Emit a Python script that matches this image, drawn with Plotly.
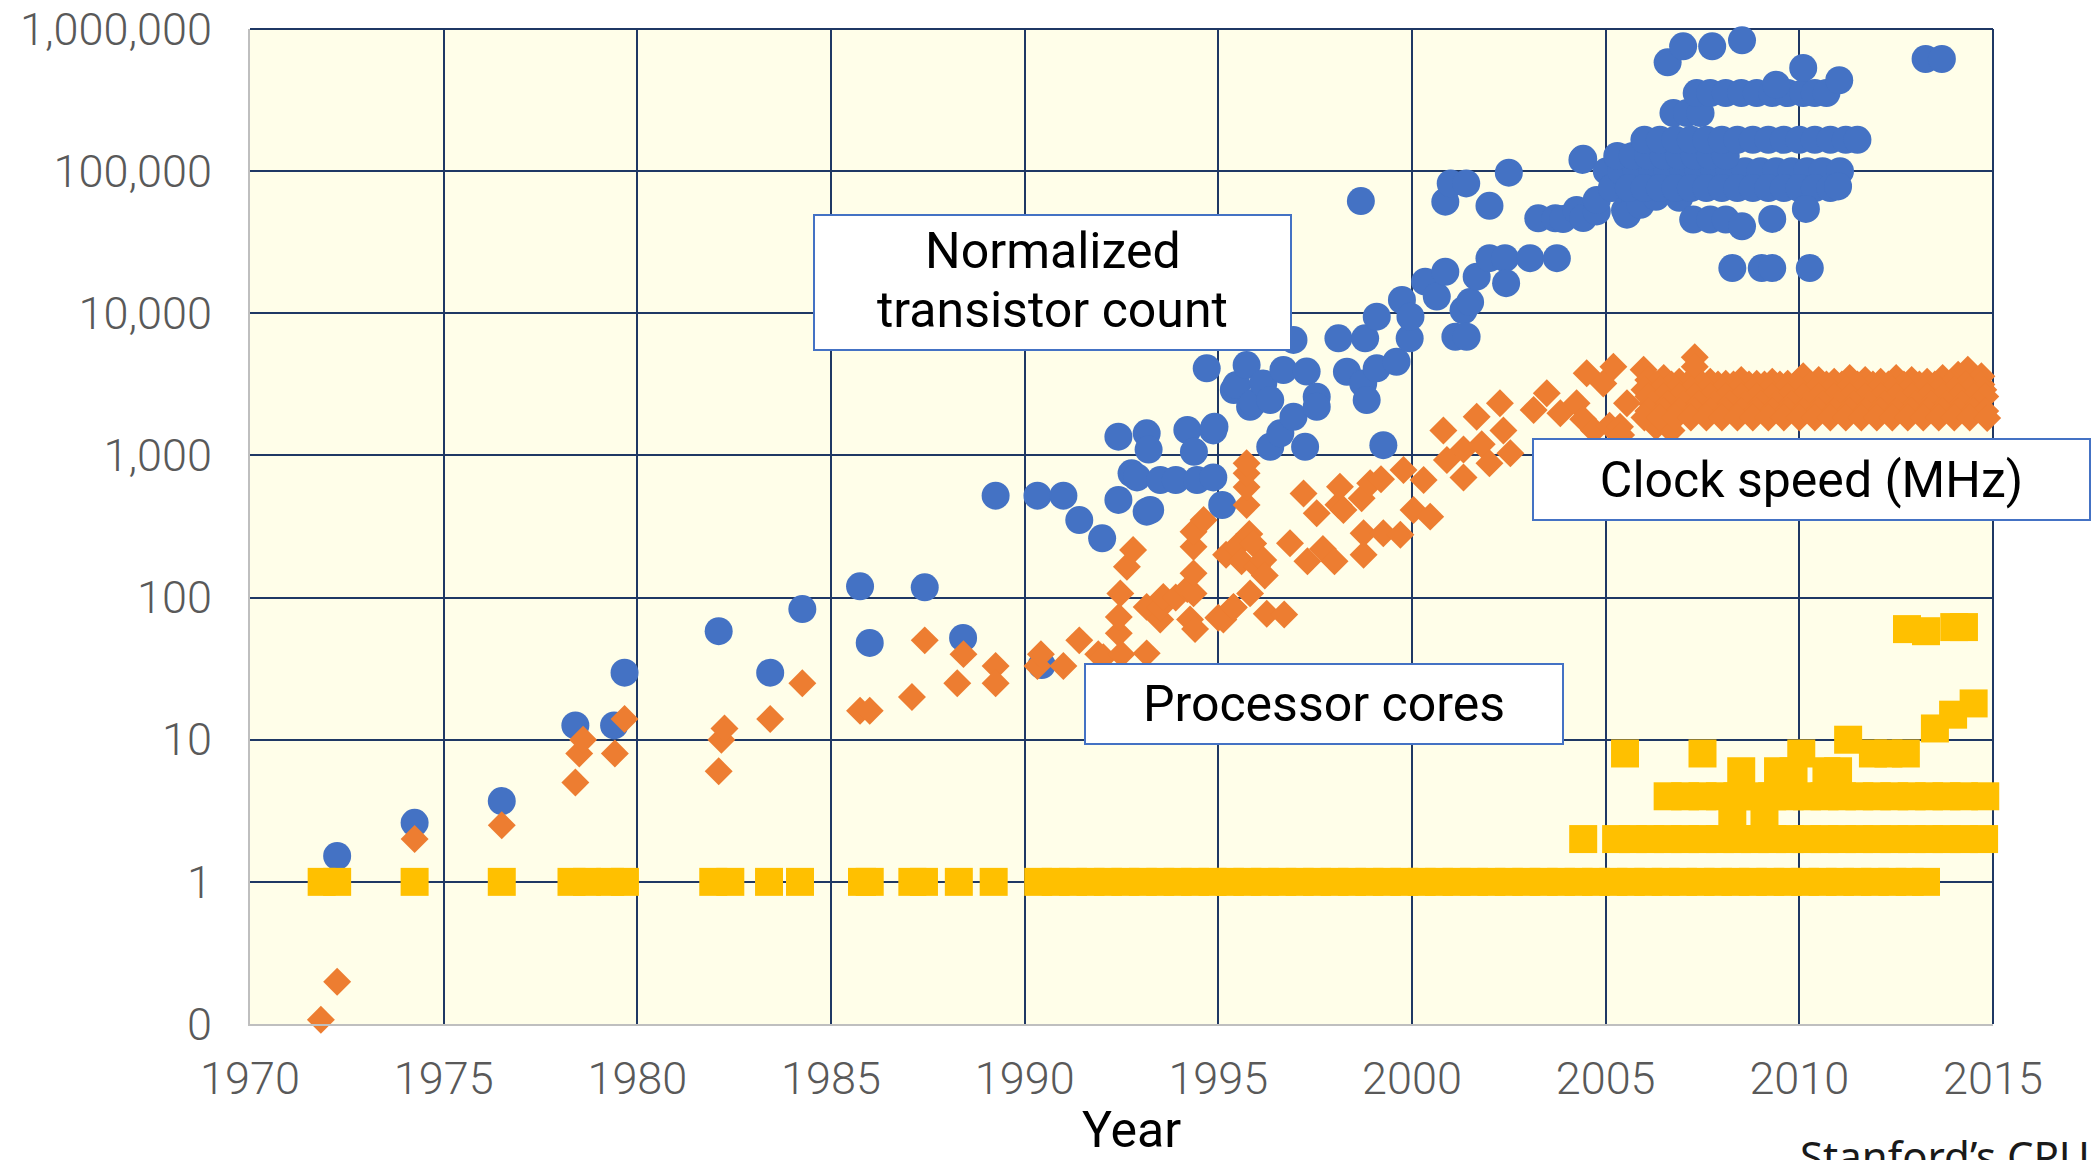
import plotly.graph_objects as go

# ---------------- data ----------------
transistor_year = [
    1972.25, 1974.25, 1976.5, 1978.4, 1979.4, 1979.67, 1982.1, 1983.43, 1984.26, 1985.75,
    1986.0, 1987.42, 1988.41, 1989.25, 1990.33, 1990.44, 1991.0, 1991.41, 1992.0, 1992.42,
    1992.42, 1992.76, 1992.9, 1993.15, 1993.15, 1993.2, 1993.24, 1993.5, 1993.9, 1994.2,
    1994.37, 1994.45, 1994.7, 1994.87, 1994.87, 1994.9, 1995.1, 1995.4, 1995.47, 1995.73,
    1995.82, 1995.9, 1996.16, 1996.34, 1996.34, 1996.6, 1996.68, 1996.94, 1996.94, 1997.24,
    1997.28, 1997.54, 1997.54, 1998.1, 1998.32, 1998.68, 1998.74, 1998.79, 1998.83, 1999.09,
    1999.09, 1999.26, 1999.6, 1999.74, 1999.94, 1999.96, 2000.34, 2000.64, 2000.86, 2000.86,
    2001.0, 2001.12, 2001.33, 2001.4, 2001.41, 2001.5, 2001.67, 2002.0, 2002.0, 2002.4,
    2002.43, 2002.5, 2003.05, 2003.26, 2003.7, 2003.74, 2003.9, 2004.25, 2004.4, 2004.42,
    2004.42, 2004.77, 2004.77, 2005.03, 2005.2, 2005.16, 2005.5, 2005.5, 2005.55, 2005.9,
    2006.3, 2006.9,
    # 100,000 row
    2005.4, 2005.8, 2006.2, 2006.6, 2007.0, 2007.4, 2007.8, 2008.2, 2008.6, 2009.0,
    2009.4, 2009.8, 2010.2, 2010.6, 2011.05,
    # ~76,000 row
    2005.6, 2006.0, 2006.4, 2006.8, 2007.2, 2007.6, 2008.0, 2008.4, 2008.8, 2009.2,
    2009.6, 2010.0, 2010.4, 2010.8, 2011.0,
    # ~128,000 row
    2005.3, 2005.7, 2006.1, 2006.5, 2006.9, 2007.3, 2007.7, 2008.1,
    # ~166,000 row
    2006.0, 2006.4, 2006.8, 2007.2, 2007.6, 2008.0, 2008.4, 2008.8, 2009.2, 2009.6,
    2010.0, 2010.4, 2010.8, 2011.2, 2011.5,
    # ~256,000 row
    2006.75, 2007.1, 2007.45,
    # ~354,000 row
    2007.35, 2007.7, 2008.1, 2008.5, 2008.9, 2009.3, 2009.7, 2010.1, 2010.4, 2010.7,
    # top points
    2006.6, 2007.0, 2007.75, 2008.52, 2009.4, 2010.1, 2011.03, 2013.26, 2013.68,
    # ~45,000 row and low points
    2007.26, 2007.7, 2008.1, 2008.52, 2009.3, 2010.17,
    2008.27, 2009.03, 2009.3, 2010.27,
]
transistor_count = [
    1.52, 2.6, 3.7, 12.6, 12.6, 29.6, 58, 29.6, 83, 120,
    48, 118, 52, 521, 521, 33.5, 521, 351, 261, 1355,
    486, 748, 700, 1430, 402, 1100, 413, 671, 671, 1510,
    1060, 671, 4100, 1500, 700, 1590, 448, 2885, 3130, 4320,
    2200, 2340, 3210, 1150, 2450, 1430, 3990, 1870, 6490, 1150,
    3890, 2590, 2200, 6670, 3880, 61600, 3210, 6670, 2450, 9460,
    4100, 1180, 4560, 12400, 6670, 9460, 16700, 13100, 19600, 61000,
    82000, 6840, 10500, 82000, 6840, 12000, 18100, 24400, 57000, 24400,
    16300, 97500, 24400, 46600, 46600, 24400, 46000, 53300, 120000, 46800,
    122000, 52100, 62700, 100000, 78000, 76000, 124000, 53000, 49400, 58000,
    66000, 65000,
    100000, 100000, 100000, 100000, 100000, 100000, 100000, 100000, 100000, 100000,
    100000, 100000, 100000, 100000, 100000,
    76000, 76000, 76000, 76000, 76000, 76000, 76000, 76000, 76000, 76000,
    76000, 76000, 76000, 76000, 78100,
    128000, 128000, 128000, 128000, 128000, 128000, 128000, 128000,
    166000, 166000, 166000, 166000, 166000, 166000, 166000, 166000, 166000, 166000,
    166000, 166000, 166000, 166000, 166000,
    256000, 256000, 256000,
    354000, 354000, 354000, 354000, 354000, 354000, 354000, 354000, 354000, 354000,
    583000, 755000, 755000, 832000, 406000, 532000, 436000, 615000, 615000,
    45600, 45600, 45600, 40900, 46100, 54200,
    20800, 20800, 20800, 20800,
]

clock_year = [
    1971.83, 1972.25, 1974.25, 1976.5, 1978.4, 1978.5, 1978.6, 1979.42, 1979.67, 1982.1,
    1982.17, 1982.25, 1983.43, 1984.26, 1985.75, 1986.0, 1987.09, 1987.42, 1988.26, 1988.42,
    1989.25, 1989.25, 1990.33, 1990.42, 1991.0, 1991.41, 1991.9, 1992.03, 1992.43, 1992.43,
    1992.47, 1992.5, 1992.64, 1992.8, 1993.15, 1993.15, 1993.5, 1993.5, 1993.58, 1993.9,
    1994.2, 1994.27, 1994.36, 1994.36, 1994.36, 1994.36, 1994.4, 1994.62, 1995.0, 1995.13,
    1995.2, 1995.39, 1995.4, 1995.47, 1995.6, 1995.73, 1995.73, 1995.73, 1995.73, 1995.8,
    1995.82, 1995.9, 1996.0, 1996.16, 1996.2, 1996.25, 1996.7, 1996.85, 1997.2, 1997.3,
    1997.54, 1997.7, 1998.0, 1998.1, 1998.14, 1998.23, 1998.7, 1998.75, 1998.75, 1998.92,
    1999.2, 1999.26, 1999.7, 1999.78, 2000.04, 2000.3, 2000.47, 2000.81, 2000.9, 2001.33,
    2001.33, 2001.67, 2001.8, 2002.0, 2002.27, 2002.36, 2002.54, 2003.14, 2003.48, 2003.83,
    2004.25, 2004.42, 2004.51, 2004.7, 2004.94, 2005.1, 2005.2, 2005.37, 2005.4, 2005.55,
    2005.98, 2006.3, 2006.7,
    # top edge of the 2006-2015 band
    2006.1, 2006.5, 2006.9, 2007.3, 2007.3, 2007.7, 2008.1, 2008.5, 2008.9, 2009.3,
    2009.7, 2010.1, 2010.5, 2010.9, 2011.3, 2011.7, 2012.1, 2012.5, 2012.9, 2013.3,
    2013.7, 2014.1, 2014.35, 2014.7,
    # ~3,150 MHz
    2006.3, 2006.7, 2007.1, 2007.5, 2007.9, 2008.3, 2008.7, 2009.1, 2009.5, 2009.9,
    2010.3, 2010.7, 2011.1, 2011.5, 2011.9, 2012.3, 2012.7, 2013.1, 2013.5, 2013.9,
    2014.3, 2014.7,
    # ~2,900 MHz
    2006.0, 2006.4, 2006.8, 2007.2, 2007.6, 2008.0, 2008.4, 2008.8, 2009.2, 2009.6,
    2010.0, 2010.4, 2010.8, 2011.2, 2011.6, 2012.0, 2012.4, 2012.8, 2013.2, 2013.6,
    2014.0, 2014.4, 2014.75,
    # ~2,600 MHz
    2006.1, 2006.5, 2006.9, 2007.3, 2007.7, 2008.1, 2008.5, 2008.9, 2009.3, 2009.7,
    2010.1, 2010.5, 2010.9, 2011.3, 2011.7, 2012.1, 2012.5, 2012.9, 2013.3, 2013.7,
    2014.1, 2014.5, 2014.8,
    # ~2,300 MHz
    2006.2, 2006.6, 2007.0, 2007.4, 2007.8, 2008.2, 2008.6, 2009.0, 2009.4, 2009.8,
    2010.2, 2010.6, 2011.0, 2011.4, 2011.8, 2012.2, 2012.6, 2013.0, 2013.4, 2013.8,
    2014.2, 2014.6,
    # ~2,050 MHz
    2006.1, 2006.5, 2006.9, 2007.3, 2007.7, 2008.1, 2008.5, 2008.9, 2009.3, 2009.7,
    2010.1, 2010.5, 2010.9, 2011.3, 2011.7, 2012.1, 2012.5, 2012.9, 2013.3, 2013.7,
    2014.1, 2014.5, 2014.8,
    # ~1,850 MHz
    2006.0, 2006.4, 2006.8, 2007.2, 2007.6, 2008.0, 2008.4, 2008.8, 2009.2, 2009.6,
    2010.0, 2010.4, 2010.8, 2011.2, 2011.6, 2012.0, 2012.4, 2012.8, 2013.2, 2013.6,
    2014.0, 2014.4, 2014.85,
]
clock_mhz = [
    0.107, 0.198, 2.0, 2.5, 5.0, 8.0, 10, 8, 14, 6,
    10, 12, 14, 25, 16, 16, 20, 50, 25, 40,
    33, 25, 33, 40, 33, 50, 40, 38, 56, 73,
    107, 40, 165, 216, 40.5, 86, 70, 85, 101, 100,
    115, 70, 107, 148, 228, 290, 60, 351, 72, 70,
    200, 86, 85, 228, 180, 448, 600, 748, 880, 280,
    107, 240, 165, 184, 143, 77, 76, 241, 540, 180,
    392, 220, 180, 450, 602, 413, 500, 283, 200, 637,
    680, 283, 277, 789, 413, 671, 371, 1500, 929, 1100,
    700, 1870, 1200, 880, 2330, 1500, 1035, 2090, 2735, 1980,
    2330, 1800, 3780, 1500, 3210, 1620, 4200, 1590, 1390, 2330,
    4000, 1600, 1500,
    3400, 3500, 3300, 4900, 4200, 3300, 3200, 3400, 3200, 3300,
    3200, 3600, 3400, 3300, 3500, 3400, 3300, 3500, 3400, 3300,
    3500, 3700, 4000, 3600,
    3150, 3150, 3150, 3150, 3150, 3150, 3150, 3150, 3150, 3150,
    3150, 3150, 3150, 3150, 3150, 3150, 3150, 3150, 3150, 3150,
    3150, 3150,
    2900, 2900, 2900, 2900, 2900, 2900, 2900, 2900, 2900, 2900,
    2900, 2900, 2900, 2900, 2900, 2900, 2900, 2900, 2900, 2900,
    2900, 2900, 2900,
    2600, 2600, 2600, 2600, 2600, 2600, 2600, 2600, 2600, 2600,
    2600, 2600, 2600, 2600, 2600, 2600, 2600, 2600, 2600, 2600,
    2600, 2600, 2600,
    2300, 2300, 2300, 2300, 2300, 2300, 2300, 2300, 2300, 2300,
    2300, 2300, 2300, 2300, 2300, 2300, 2300, 2300, 2300, 2300,
    2300, 2300,
    2050, 2050, 2050, 2050, 2050, 2050, 2050, 2050, 2050, 2050,
    2050, 2050, 2050, 2050, 2050, 2050, 2050, 2050, 2050, 2050,
    2050, 2050, 2050,
    1850, 1850, 1850, 1850, 1850, 1850, 1850, 1850, 1850, 1850,
    1850, 1850, 1850, 1850, 1850, 1850, 1850, 1850, 1850, 1850,
    1850, 1850, 1830,
]

cores_year = [
    1971.85, 1972.25, 1974.25, 1976.5, 1978.3, 1978.7, 1979.3, 1979.68, 1981.96, 1982.4,
    1983.4, 1984.2, 1985.8, 1986.0, 1987.1, 1987.4, 1988.3, 1989.2,
    1990.35, 1990.8, 1991.25, 1991.7, 1992.15, 1992.6, 1993.05, 1993.5, 1993.95, 1994.4,
    1994.85, 1995.3, 1995.75, 1996.2, 1996.65, 1997.1, 1997.55, 1998.0, 1998.45, 1998.9,
    1999.35, 1999.8, 2000.25, 2000.7, 2001.15, 2001.6, 2002.05, 2002.5, 2002.95, 2003.4,
    2003.85, 2004.3, 2004.75, 2005.2, 2005.65, 2006.1, 2006.55, 2007.0, 2007.45, 2007.9,
    2008.35, 2008.8, 2009.25, 2009.7, 2010.15, 2010.6, 2011.05, 2011.5, 2011.95, 2012.4,
    2012.85, 2013.27,
    # 2 cores
    2004.42, 2005.27, 2005.7, 2006.15, 2006.6, 2007.05, 2007.5, 2007.95, 2008.4, 2008.85,
    2009.3, 2009.75, 2010.2, 2010.65, 2011.1, 2011.55, 2012.0, 2012.45, 2012.9, 2013.35,
    2013.8, 2014.25, 2014.77,
    # 3 cores
    2008.27, 2009.1,
    # 4 cores
    2006.6, 2007.05, 2007.5, 2007.95, 2008.4, 2008.85, 2009.3, 2009.75, 2010.2, 2010.65,
    2011.1, 2011.55, 2012.0, 2012.45, 2012.9, 2013.35, 2013.8, 2014.25, 2014.8,
    # 6 cores
    2008.5, 2009.45, 2009.85, 2010.7, 2011.0,
    # 8 cores
    2005.5, 2007.5, 2010.05, 2011.9, 2012.3, 2012.75,
    # 10+ cores
    2011.26, 2013.5, 2013.97, 2014.5,
    # ~60 cores
    2012.78, 2013.27, 2014.0, 2014.25,
]
cores_count = [
    1, 1, 1, 1, 1, 1, 1, 1, 1, 1,
    1, 1, 1, 1, 1, 1, 1, 1,
    1, 1, 1, 1, 1, 1, 1, 1, 1, 1,
    1, 1, 1, 1, 1, 1, 1, 1, 1, 1,
    1, 1, 1, 1, 1, 1, 1, 1, 1, 1,
    1, 1, 1, 1, 1, 1, 1, 1, 1, 1,
    1, 1, 1, 1, 1, 1, 1, 1, 1, 1,
    1, 1,
    2, 2, 2, 2, 2, 2, 2, 2, 2, 2,
    2, 2, 2, 2, 2, 2, 2, 2, 2, 2,
    2, 2, 2,
    3, 3,
    4, 4, 4, 4, 4, 4, 4, 4, 4, 4,
    4, 4, 4, 4, 4, 4, 4, 4, 4,
    6, 6, 6, 6, 6,
    8, 8, 8, 8, 8, 8,
    10, 12, 15, 18,
    60, 58, 62, 62,
]

y_tickvals = [0.1, 1, 10, 100, 1000, 10000, 100000, 1000000]
y_ticktext = ["0", "1", "10", "100", "1,000", "10,000", "100,000", "1,000,000"]
x_tickvals = [1970, 1975, 1980, 1985, 1990, 1995, 2000, 2005, 2010, 2015]

# ---------------- figure ----------------
FONT = "Roboto, Noto Sans, sans-serif"
LATIN = "Noto Sans, Liberation Sans, sans-serif"
GRID = "#1F3864"
BOXLINE = "#4472C4"

fig = go.Figure()
fig.add_trace(go.Scatter(
    x=transistor_year, y=transistor_count, mode="markers", name="Normalized transistor count",
    marker=dict(symbol="circle", size=28, color="#4472C4", line=dict(width=0)),
    cliponaxis=False,
))
fig.add_trace(go.Scatter(
    x=clock_year, y=clock_mhz, mode="markers", name="Clock speed (MHz)",
    marker=dict(symbol="diamond", size=21.5, color="#ED7D31", line=dict(width=0)),
    cliponaxis=False,
))
fig.add_trace(go.Scatter(
    x=cores_year, y=cores_count, mode="markers", name="Processor cores",
    marker=dict(symbol="square", size=28, color="#FFC000", line=dict(width=0)),
    cliponaxis=False,
))

# the page body margin is removed by a small post-script, so figure px == window px
W, H = 2093, 1160
L, R, T, B = 250, 1993, 29, 1024


def px(x):
    return (x - L) / (R - L)


def py(y):
    return (B - y) / (B - T)


box = dict(bgcolor="white", bordercolor=BOXLINE, borderwidth=2, borderpad=0,
           showarrow=False, xref="paper", yref="paper", xanchor="center", yanchor="middle",
           font=dict(family=FONT, size=50, color="#000000"))
plain = dict(showarrow=False, xref="paper", yref="paper", xanchor="center", yanchor="middle",
             font=dict(family=FONT, size=50, color="#000000"))

annotations = [
    dict(text="Normalized", x=px(1052.5), y=py(251), **plain),
    dict(text="transistor count", x=px(1052.5), y=py(310), **plain),
    dict(text="Clock speed (MHz)", x=px(1811.5), y=py(479.5), width=555, height=79, **box),
    dict(text="Processor cores", x=px(1324), y=py(704), width=476, height=78, **box),
    dict(text="Year", x=px(1131), y=py(1130), **plain),
    dict(text="Stanford’s CPU DB", x=px(1798), y=py(1125), xref="paper", yref="paper",
         xanchor="left", yanchor="top", showarrow=False,
         font=dict(family=LATIN, size=42, color="#1a1a1a")),
]

shapes = [
    dict(type="line", xref="paper", yref="paper", x0=0, x1=1, y0=1, y1=1,
         line=dict(color=GRID, width=2), layer="below"),
    dict(type="line", xref="paper", yref="paper", x0=1, x1=1, y0=0, y1=1,
         line=dict(color=GRID, width=2), layer="below"),
    # box behind the two-line "Normalized transistor count" label
    dict(type="rect", xref="paper", yref="paper", x0=px(814), x1=px(1291), y0=py(350), y1=py(215),
         fillcolor="white", line=dict(color=BOXLINE, width=2), layer="above"),
]

fig.update_layout(
    width=W, height=H,
    margin=dict(l=L, r=W - R, t=T, b=H - B, pad=0, autoexpand=False),
    paper_bgcolor="white",
    plot_bgcolor="#FFFEE9",
    showlegend=False,
    annotations=annotations,
    shapes=shapes,
    xaxis=dict(
        range=[1969.9999, 2015.0001], tickmode="array", tickvals=x_tickvals,
        showgrid=True, gridcolor=GRID, gridwidth=2,
        showline=True, linecolor="#BFBFBF", linewidth=2,
        ticks="", ticklabelstandoff=14, automargin=False, ticklabeloverflow="allow",
        tickfont=dict(family=FONT, size=45, color="#595959", weight=300),
        zeroline=False,
    ),
    yaxis=dict(
        type="log", range=[-1.00001, 6.00001], tickmode="array", tickvals=y_tickvals,
        ticktext=y_ticktext,
        showgrid=True, gridcolor=GRID, gridwidth=2,
        showline=True, linecolor="#BFBFBF", linewidth=2,
        ticks="", ticklabelstandoff=27, automargin=False, ticklabeloverflow="allow",
        tickfont=dict(family=FONT, size=45, color="#595959", weight=300),
        zeroline=False,
    ),
)

fig.write_html(
    "out.html",
    config={"displayModeBar": False},
    post_script="document.body.style.margin='0px'; document.body.style.overflow='hidden';",
)
